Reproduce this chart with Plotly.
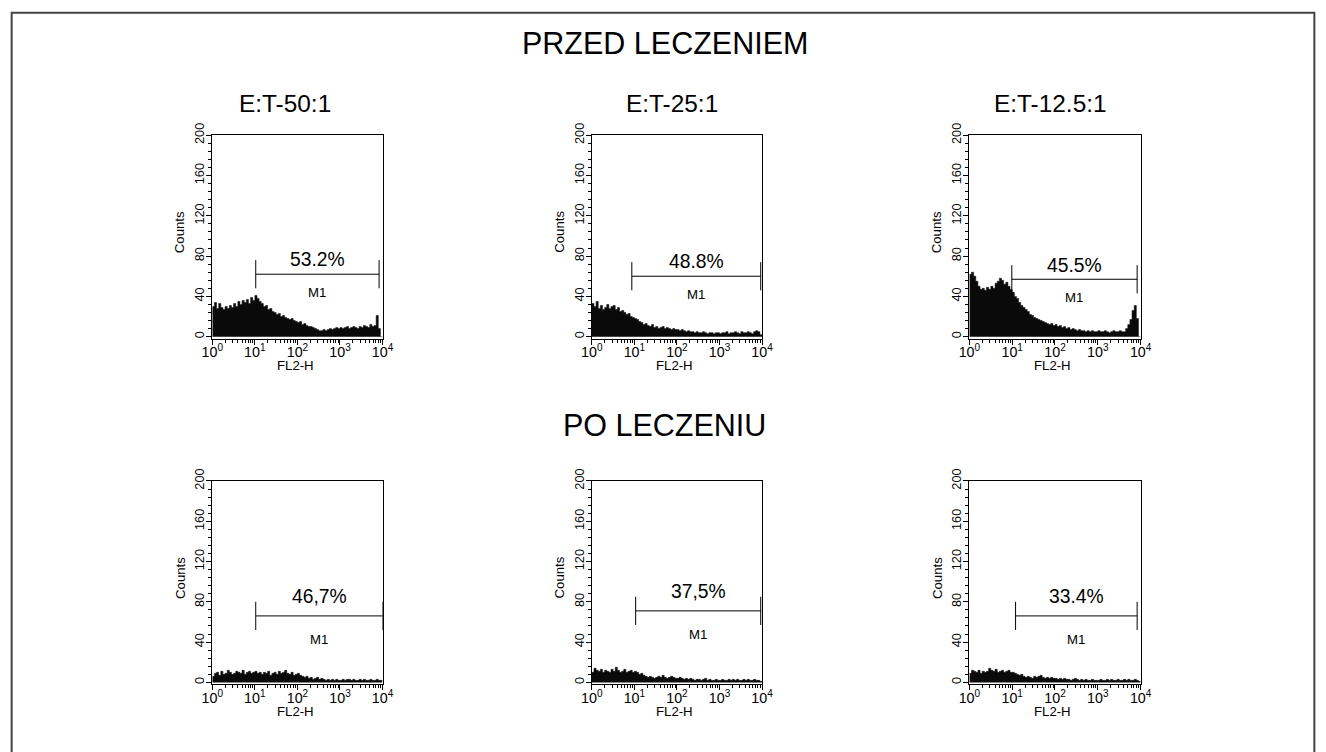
import numpy as np
import plotly.graph_objects as go

# ---------------- data ----------------
row_titles = ["PRZED LECZENIEM", "PO LECZENIU"]
col_titles = ["E:T-50:1", "E:T-25:1", "E:T-12.5:1"]
pct_labels = ["53.2%", "48.8%", "45.5%", "46,7%", "37,5%", "33.4%"]

# counts per channel (80 log-spaced channels from 10^0 to 10^4)
counts_50_before = [30,34,28,33,29,27,30,28,31,29,33,30,35,32,36,34,37,33,39,36,
                    41,38,35,33,30,31,27,28,25,24,22,23,20,21,19,18,17,18,16,15,
                    14,15,12,13,11,10,10,9,8,7,6,6,7,6,7,8,7,8,9,8,
                    9,8,9,10,8,9,10,9,8,10,9,11,10,9,12,10,11,21,8,0]
counts_25_before = [33,30,35,28,31,27,29,32,28,30,31,27,29,25,26,24,22,23,20,19,
                    18,17,15,14,12,13,11,10,12,9,10,8,9,10,8,9,8,7,8,7,
                    7,6,7,6,5,6,5,5,4,5,4,4,5,4,3,4,4,3,4,4,
                    3,4,4,5,3,4,4,5,4,3,5,4,4,5,4,3,5,6,5,2]
counts_12_before = [62,64,60,55,50,47,48,46,49,47,50,48,53,55,58,56,52,54,50,47,
                    44,40,38,34,31,29,27,25,22,21,19,18,17,16,15,14,13,12,13,11,
                    12,10,11,9,10,8,9,7,8,7,6,7,6,6,5,6,5,6,5,5,
                    6,5,5,6,5,4,5,6,5,5,6,5,5,8,12,17,26,31,18,0]
counts_50_after = [6,9,10,7,11,8,9,12,10,8,9,11,10,9,12,8,10,11,9,10,
                   11,9,10,8,10,9,11,7,9,10,8,11,9,10,12,9,8,10,7,8,
                   9,7,6,5,6,4,5,3,4,5,3,4,3,2,3,2,3,2,3,2,
                   2,3,2,3,3,2,3,2,2,3,2,3,2,2,3,2,2,3,2,2]
counts_25_after = [10,14,12,11,13,10,12,11,10,13,11,15,12,10,11,13,10,11,12,10,
                   11,10,8,9,7,6,5,6,5,4,5,6,5,7,5,4,5,6,5,4,
                   4,5,4,3,4,3,4,3,2,3,3,2,3,4,2,3,2,2,3,2,
                   2,3,2,2,3,2,3,2,3,2,2,3,2,3,2,2,3,2,2,1]
counts_12_after = [9,12,11,10,12,9,11,10,11,14,12,11,13,10,11,12,10,11,12,10,
                   10,9,8,7,8,6,5,6,5,4,6,5,6,7,5,4,5,4,5,4,
                   4,3,4,3,4,3,3,2,3,4,3,2,3,2,3,2,2,3,2,2,
                   2,3,2,2,3,2,3,2,2,3,2,2,3,2,3,2,2,3,2,1]

# M1 marker: start, end (FL2-H values) and level (counts)
m1_start = [10.5, 8.7, 9.8, 10.5, 10.7, 12.0]
m1_end = [8300, 9300, 8300, 10000, 9300, 8300]
m1_level = [62, 60, 57, 66, 71, 66]

x_ticks = [1, 10, 100, 1000, 10000]
x_tick_text = ["10<sup>0</sup>", "10<sup>1</sup>", "10<sup>2</sup>", "10<sup>3</sup>", "10<sup>4</sup>"]
y_ticks = [0, 40, 80, 120, 160, 200]

all_counts = [counts_50_before, counts_25_before, counts_12_before,
              counts_50_after, counts_25_after, counts_12_after]

# ---------------- layout geometry (target pixels) ----------------
W, H = 1326, 752
OFF, SC = 12.0, 0.982   # observed placement of the page in the photograph
col_px = [(213, 383), (592, 762), (969, 1140)]
row_px = [(135, 338), (480, 683)]

fig = go.Figure()
edges = np.logspace(0, 4, 81)
minor_vals = [m * 10 ** k for k in range(4) for m in range(2, 10)]
font = "Liberation Sans, Arial, sans-serif"


def px(x):
    return min(max(((x - OFF) / SC) / W, 0.0005), 0.9995)


def py(y):
    return 1 - ((y - OFF) / SC) / H


def fs(s):
    return round(s / SC, 1)


for i in range(6):
    r, c = divmod(i, 3)
    n = i + 1
    xa = "x" if n == 1 else f"x{n}"
    ya = "y" if n == 1 else f"y{n}"
    vals = all_counts[i]
    xs = list(edges[:-1]) + [edges[-1]]
    ys = list(vals) + [vals[-1]]
    fig.add_trace(go.Scatter(x=xs, y=ys, mode="lines", line=dict(color="#0a0a0a", width=0.5, shape="hv"),
                             fill="tozeroy", fillcolor="#0a0a0a", xaxis=xa, yaxis=ya,
                             showlegend=False, hoverinfo="skip"))
    x0, x1 = col_px[c]
    y0, y1 = row_px[r]
    fig.layout[("xaxis" if n == 1 else f"xaxis{n}")] = dict(
        type="log", domain=[px(x0), px(x1)], range=[0, 4], anchor=ya,
        tickvals=x_ticks, ticktext=x_tick_text, ticks="outside", ticklen=5, tickcolor="black",
        minor=dict(tickvals=minor_vals, ticks="outside", ticklen=3, tickcolor="black"),
        showline=True, linecolor="black", linewidth=1, mirror=True, showgrid=False, zeroline=False,
        tickfont=dict(family=font, size=fs(14), color="black"), ticklabelstandoff=-5,
    )
    fig.layout[("yaxis" if n == 1 else f"yaxis{n}")] = dict(
        domain=[py(y1), py(y0)], range=[-2, 200], anchor=xa,
        tickvals=y_ticks, ticks="outside", ticklen=5, tickcolor="black", tickangle=-90,
        minor=dict(dtick=8, tick0=0, ticks="outside", ticklen=3, tickcolor="black"),
        showline=True, linecolor="black", linewidth=1, mirror=True, showgrid=False, zeroline=False,
        tickfont=dict(family=font, size=fs(12.5), color="black"), ticklabelstandoff=-3,
    )
    # axis titles
    fig.add_annotation(x=px(x0 - 32), y=py((y0 + y1) / 2 - 5), xref="paper", yref="paper", text="Counts",
                       textangle=-90, showarrow=False, xanchor="center", yanchor="middle",
                       font=dict(family=font, size=fs(13), color="black"))
    fig.add_annotation(x=px((x0 + x1) / 2 - 2), y=py(y1 + 27), xref="paper", yref="paper", text="FL2-H",
                       showarrow=False, xanchor="center", yanchor="middle",
                       font=dict(family=font, size=fs(13), color="black"))
    # M1 marker
    lvl = m1_level[i]
    line = dict(color="black", width=1)
    fig.add_shape(type="line", xref=xa, yref=ya, x0=m1_start[i], x1=m1_end[i], y0=lvl, y1=lvl, line=line)
    fig.add_shape(type="line", xref=xa, yref=ya, x0=m1_start[i], x1=m1_start[i], y0=lvl - 14, y1=lvl + 14, line=line)
    fig.add_shape(type="line", xref=xa, yref=ya, x0=m1_end[i], x1=m1_end[i], y0=lvl - 14, y1=lvl + 14, line=line)
    mid = (np.log10(m1_start[i]) + np.log10(m1_end[i])) / 2
    up = 14 if r == 0 else 19
    down = 18 if r == 0 else 23
    fig.add_annotation(x=mid, y=lvl, xref=xa, yref=ya, text=pct_labels[i], showarrow=False,
                       yanchor="middle", yshift=up / SC, font=dict(family=font, size=fs(19), color="black"))
    fig.add_annotation(x=mid, y=lvl, xref=xa, yref=ya, text="M1", showarrow=False,
                       yanchor="middle", yshift=-down / SC, font=dict(family=font, size=fs(13), color="black"))

# titles
fig.add_annotation(x=px(665), y=py(43), xref="paper", yref="paper", text=row_titles[0], showarrow=False,
                   xanchor="center", yanchor="middle", font=dict(family=font, size=fs(30), color="black"))
fig.add_annotation(x=px(665), y=py(424), xref="paper", yref="paper", text=row_titles[1], showarrow=False,
                   xanchor="center", yanchor="middle", font=dict(family=font, size=fs(30), color="black"))
for c, cx in enumerate([286, 672, 1050]):
    fig.add_annotation(x=px(cx), y=py(103), xref="paper", yref="paper", text=col_titles[c], showarrow=False,
                       xanchor="center", yanchor="middle", font=dict(family=font, size=fs(24), color="black"))

# outer frame
fig.add_shape(type="rect", xref="paper", yref="paper", x0=px(8.5), x1=px(1323), y0=-0.05, y1=min(py(6.5), 0.999),
              line=dict(color="#444444", width=2))

fig.update_layout(autosize=True, margin=dict(l=0, r=0, t=0, b=0),
                  paper_bgcolor="white", plot_bgcolor="white", showlegend=False)

fig.write_html("out.html", default_width="100vw", default_height="100vh",
               config={"displayModeBar": False, "responsive": True},
               post_script="document.body.style.margin='0';document.body.style.overflow='hidden';"
                           "window.dispatchEvent(new Event('resize'));")
